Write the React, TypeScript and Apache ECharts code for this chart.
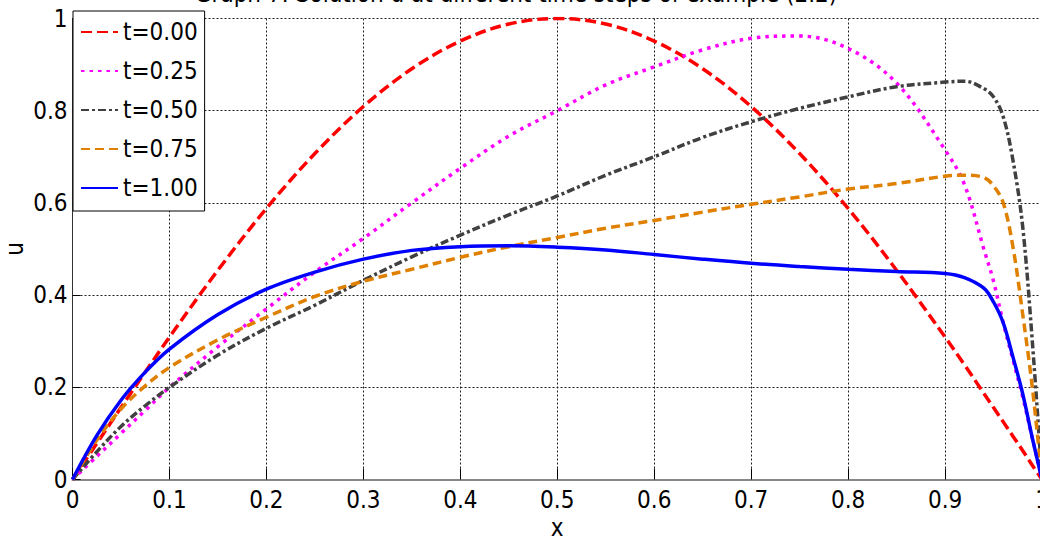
import React, { useEffect, useRef } from "react";
import * as echarts from "echarts";

const xs = [0, 0.025, 0.05, 0.075, 0.1, 0.15, 0.2, 0.25, 0.3, 0.35, 0.4, 0.45, 0.5, 0.55, 0.6, 0.65, 0.7, 0.75, 0.8, 0.85, 0.9, 0.92, 0.94, 0.95, 0.96, 0.97, 0.98, 0.99, 1];
const u000 = [0, 0.078, 0.156, 0.233, 0.309, 0.454, 0.588, 0.707, 0.809, 0.891, 0.951, 0.988, 1, 0.988, 0.951, 0.891, 0.809, 0.707, 0.588, 0.454, 0.309, 0.249, 0.187, 0.156, 0.125, 0.094, 0.063, 0.031, 0];
const u025 = [0, 0.05, 0.1, 0.15, 0.2, 0.288, 0.37, 0.45, 0.523, 0.6, 0.675, 0.745, 0.8, 0.856, 0.895, 0.932, 0.957, 0.962, 0.935, 0.86, 0.715, 0.64, 0.5, 0.43, 0.34, 0.26, 0.18, 0.09, 0];
const u050 = [0, 0.06, 0.115, 0.16, 0.2, 0.27, 0.328, 0.378, 0.432, 0.483, 0.53, 0.574, 0.615, 0.66, 0.7, 0.742, 0.776, 0.805, 0.83, 0.852, 0.862, 0.864, 0.848, 0.83, 0.787, 0.693, 0.55, 0.3, 0];
const u075 = [0, 0.085, 0.153, 0.203, 0.243, 0.303, 0.352, 0.397, 0.43, 0.456, 0.482, 0.505, 0.525, 0.545, 0.562, 0.58, 0.597, 0.613, 0.63, 0.642, 0.658, 0.66, 0.655, 0.637, 0.6, 0.505, 0.36, 0.2, 0];
const u100 = [0, 0.095, 0.172, 0.233, 0.283, 0.358, 0.413, 0.45, 0.478, 0.497, 0.505, 0.507, 0.504, 0.498, 0.488, 0.478, 0.469, 0.462, 0.456, 0.451, 0.447, 0.438, 0.415, 0.385, 0.34, 0.266, 0.187, 0.09, 0];

const seriesNames = ["t=0.00", "t=0.25", "t=0.50", "t=0.75", "t=1.00"];
const seriesValues = [u000, u025, u050, u075, u100];
const titleText = "Graph 7: Solution u at different time steps of example (2.2)";

const FONT = "'Liberation Sans Narrow', 'DejaVu Sans Condensed', 'Liberation Sans', sans-serif";

const styles = [
  { color: "#ff0000", type: [11, 5] as number[], width: 3.5 },
  { color: "#ff00ff", type: [3.5, 5] as number[], width: 3.5 },
  { color: "#404040", type: [8, 3, 3, 3] as number[], width: 3.5 },
  { color: "#e08000", type: [9, 5] as number[], width: 3.5 },
  { color: "#0000ff", type: "solid" as any, width: 3.5 },
];

export default function App() {
  const ref = useRef<HTMLDivElement>(null);
  useEffect(() => {
    if (!ref.current) return;
    const chart = echarts.init(ref.current, undefined, { renderer: "svg" });
    const series = seriesNames.map((name, i) => ({
      name,
      type: "line",
      data: xs.map((x, j) => [x, seriesValues[i][j]]),
      showSymbol: false,
      symbol: "circle",
      symbolSize: 0,
      smooth: 0.35,
      clip: true,
      lineStyle: { color: styles[i].color, type: styles[i].type, width: styles[i].width, cap: "butt" },
      itemStyle: { color: styles[i].color },
      z: 2 + i,
    }));
    chart.setOption({
      animation: false,
      backgroundColor: "#ffffff",
      textStyle: { fontFamily: FONT },
      grid: { left: 72.5, right: -2, top: 18.5, bottom: 64.5, containLabel: false, outerBoundsMode: "none" },
      graphic: [
        {
          type: "text",
          x: 516,
          y: 6,
          z: 100,
          style: {
            text: titleText,
            fontFamily: FONT,
            fontSize: 24,
            fill: "#000",
            textAlign: "center",
            textVerticalAlign: "bottom",
          },
        },
      ],
      legend: {
        orient: "vertical",
        left: 73,
        top: 11,
        padding: [6, 7, 8, 7],
        itemWidth: 37,
        itemHeight: 14,
        itemGap: 9,
        backgroundColor: "#ffffff",
        borderColor: "#000000",
        borderWidth: 1,
        selectedMode: false,
        itemStyle: { opacity: 0 },
        textStyle: { fontFamily: FONT, fontSize: 24, color: "#000", lineHeight: 30 },
        data: seriesNames,
        z: 20,
      },
      xAxis: {
        type: "value",
        min: 0,
        max: 1,
        interval: 0.1,
        name: "x",
        nameLocation: "middle",
        nameGap: 36,
        nameMoveOverlap: false,
        nameTextStyle: { fontFamily: FONT, fontSize: 24, color: "#000" },
        axisLine: { show: true, lineStyle: { color: "#888888", width: 2 } },
        axisTick: { show: true, inside: true, length: 11, lineStyle: { color: "#000", width: 1 } },
        axisLabel: { fontFamily: FONT, fontSize: 24, color: "#000", margin: 8 },
        splitLine: { show: true, lineStyle: { color: "#222", type: [2, 2], width: 1 } },
      },
      yAxis: {
        type: "value",
        min: 0,
        max: 1,
        interval: 0.2,
        name: "u",
        nameLocation: "middle",
        nameGap: 46,
        nameMoveOverlap: false,
        nameTextStyle: { fontFamily: FONT, fontSize: 24, color: "#000" },
        axisLine: { show: true, lineStyle: { color: "#333", width: 1 } },
        axisTick: { show: true, inside: true, length: 8, lineStyle: { color: "#000", width: 1 } },
        axisLabel: { fontFamily: FONT, fontSize: 24, color: "#000", margin: 5 },
        splitLine: { show: true, lineStyle: { color: "#222", type: [2, 2], width: 1 } },
      },
      series,
    });
    return () => chart.dispose();
  }, []);
  return <div ref={ref} style={{ position: "fixed", left: 0, top: 0, width: 1040, height: 544 }} />;
}
